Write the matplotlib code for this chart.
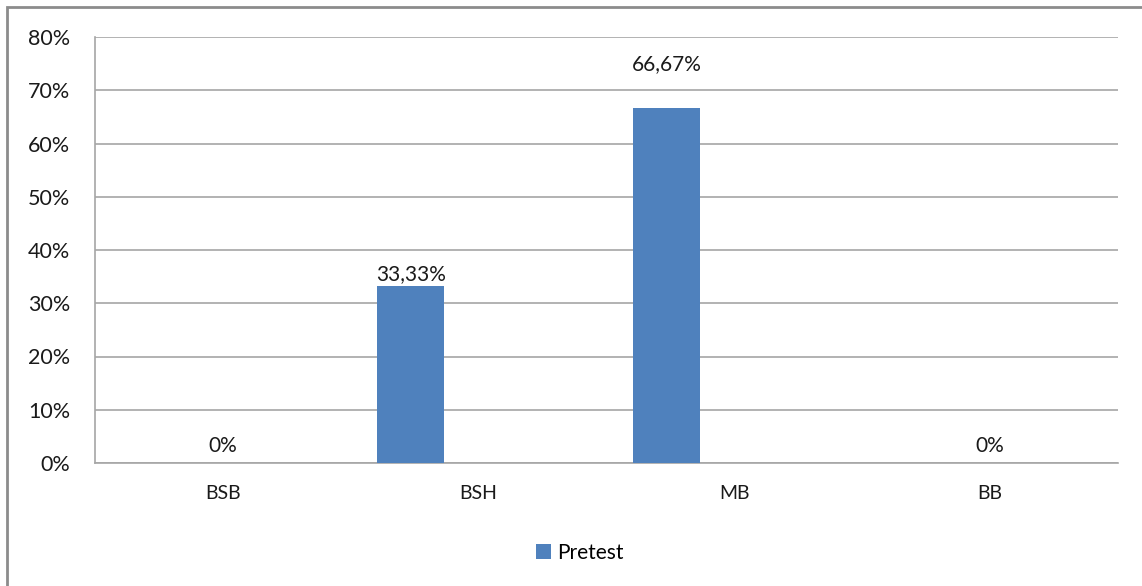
import matplotlib.pyplot as plt
import matplotlib.patches as mpatches
import numpy as np

categories = ['BSB', 'BSH', 'MB', 'BB']
pretest = [0, 33.33, 66.67, 0]
labels = ['0%', '33,33%', '66,67%', '0%']

plt.rcParams['font.family'] = ['Lato', 'DejaVu Sans']

fig = plt.figure(figsize=(11.42, 5.86), dpi=100)
ax = fig.add_axes([95 / 1142, 123 / 586, 1023 / 1142, 426 / 586])

# outer frame like the Excel chart area
fig.patches.append(mpatches.Rectangle((7 / 1142, -0.1), 1.2, (579 / 586) + 0.1,
                                      transform=fig.transFigure, fill=False,
                                      edgecolor='#8c8c8c', linewidth=2))

x = np.arange(len(categories))
bar_x = x - 0.266
bars = ax.bar(bar_x, pretest, width=0.262, color='#4F81BD', label='Pretest', zorder=3)

ax.set_xlim(-0.5, 3.5)
ax.set_ylim(0, 80)
ax.set_yticks(np.arange(0, 81, 10))
ax.set_yticklabels([f'{v}%' for v in range(0, 81, 10)], fontsize=15.5, color='#1a1a1a')
ax.set_xticks(x)
ax.set_xticklabels(categories, fontsize=14, color='#1a1a1a')
ax.tick_params(length=0)
ax.tick_params(axis='y', pad=18)
ax.tick_params(axis='x', pad=16)
ax.grid(axis='y', color='#a6a6a6', linewidth=1.2, zorder=0)
for s in ['top', 'right']:
    ax.spines[s].set_visible(False)
for s in ['left', 'bottom']:
    ax.spines[s].set_color('#a6a6a6')
    ax.spines[s].set_linewidth(1.2)

for xi, bx, v, lab in zip(x, bar_x, pretest, labels):
    if v == 0:
        ax.text(xi, 1.3, lab, ha='center', va='bottom', fontsize=15, color='#1a1a1a')
    elif v > 50:
        ax.text(bx, v + 6.3, lab, ha='center', va='bottom', fontsize=15, color='#1a1a1a')
    else:
        ax.text(bx, v + 0.3, lab, ha='center', va='bottom', fontsize=15, color='#1a1a1a')

fig.legend(handles=[bars], loc='center', bbox_to_anchor=(580 / 1142, 1 - 553 / 586),
           frameon=False, fontsize=15, handlelength=0.7, handleheight=0.7,
           handletextpad=0.3)

plt.savefig('out.png')
